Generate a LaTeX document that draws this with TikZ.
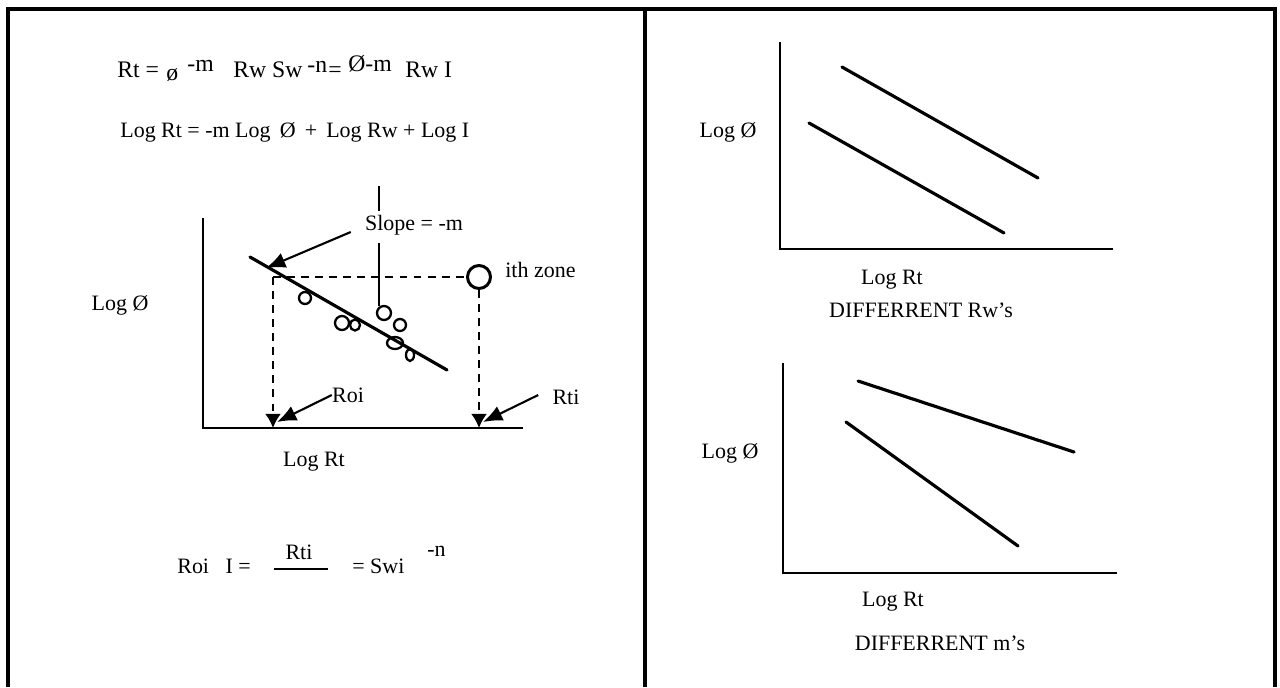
\documentclass[tikz,border=0pt]{standalone}
\usepackage{fontspec}
\setmainfont{Liberation Serif}
\usetikzlibrary{arrows.meta,positioning}

\begin{document}
\begin{tikzpicture}[x=0.02cm, y=-0.02cm,
  every node/.style={font=\fontsize{12.5}{14}\selectfont, inner sep=0pt},
  big/.style={font=\fontsize{13.5}{15}\selectfont},
  frame/.style={line width=1.9pt},
  axis/.style={line width=1.2pt},
  trend/.style={line width=1.8pt, line cap=round},
  tick/.style={line width=0.9pt},
  guide/.style={line width=1.1pt, dash pattern=on 4.5pt off 3.5pt},
  pointer/.style={line width=1.2pt, -{Latex[length=11pt,width=9pt]}},
  drop/.style={guide, -{Latex[length=8pt,width=9pt]}},
  datum/.style={line width=1.3pt}]
  \useasboundingbox (0,0) rectangle (1280,687);
  % frame and divider
  \draw[frame] (8,687) -- (8,9) -- (1275,9) -- (1275,687);
  \draw[frame] (645,9) -- (645,687);

  % left panel: equations
  \node[big, anchor=base west] (eqA1) at (117,77) {Rt =};
  \node[big, anchor=base west] (eqA2) at (166,80) {ø};
  \node[big, anchor=base west] (eqA3) at (187,71) {-m};
  \node[big, anchor=base west] (eqA4) at (233,77) {Rw Sw};
  \node[big, anchor=base west] (eqA5) at (307,72) {-n};
  \node[big, anchor=base west] (eqA6) at (328,77) {=};
  \node[big, anchor=base west] (eqA7) at (348,71) {Ø-m};
  \node[big, anchor=base west] (eqA8) at (405,77) {Rw I};
  \node[anchor=base west] (eqB) at (120,137)
    {Log Rt = -m Log\ \,Ø\ \,+\ \,Log Rw + Log I};

  % left panel: cross plot
  \coordinate (oL) at (203,428);
  \draw[axis] (203,218) -- (oL) -- (523,428);
  \node (phiL) at (120,305) {Log\ Ø};
  \node (rtL) at (314,462) {Log Rt};
  \draw[trend] (250,257) -- (447,370);
  \foreach \px/\py/\rx/\ry in {305/298/6/6, 342/323/7/7, 355/325/5/5.5, 384/313/7/7,
      400/325/6/6, 395/343/8/6, 410/355/4/6}
    \draw[datum] (\px,\py) ellipse [x radius=\rx, y radius=\ry];
  \node[draw, circle, line width=1.7pt, minimum size=0.46cm] (zone) at (479,277) {};
  \node[anchor=west] (zoneL) at (505,270) {ith zone};
  \coordinate (hit) at (273,277);
  \coordinate (roiTip) at (273,428);
  \coordinate (rtiTip) at (479,428);
  \draw[guide] (hit) -- (zone.west);
  \draw[drop] (hit) -- (roiTip);
  \draw[drop] (zone.south) -- (rtiTip);
  % slope label
  \node (slope) at (414,225) {Slope = -m};
  \coordinate (fitTop) at (266,268);
  \draw[tick] (379,186) -- (379,211);
  \draw[tick] (379,243) -- (379,306);
  \draw[pointer] ([shift={(-14,7)}]slope.west) -- (fitTop);
  % read-off labels
  \node (roi) at (348,395) {Roi};
  \node (rti) at (566,397) {Rti};
  \draw[pointer] (roi.west) -- ([shift={(4,-6)}]roiTip);
  \draw[pointer] ([shift={(-14,-2)}]rti.west) -- ([shift={(4,-6)}]rtiTip);

  % left panel: saturation relation
  \node[anchor=base west] (eqC) at (177,573) {Roi\ \ \ I =};
  \node[anchor=base] (eqNum) at (299,559) {Rti};
  \draw[tick] (274,569) -- (328,569);
  \node[anchor=base west] (eqD) at (352,573) {= Swi};
  \node[anchor=base west] (eqExp) at (427,556) {-n};

  % right panel: different Rw's
  \draw[axis] (780,42) -- (780,249) -- (1113,249);
  \draw[trend] (842,67) -- (1038,178);
  \draw[trend] (809,123) -- (1004,233);
  \node (phiR1) at (728,132) {Log\ Ø};
  \node (rtR1) at (892,280) {Log Rt};
  \node (capR1) at (921,310) {DIFFERRENT Rw's};

  % right panel: different m's
  \draw[axis] (783,363) -- (783,573) -- (1117,573);
  \draw[trend] (858,381) -- (1074,452);
  \draw[trend] (846,422) -- (1018,546);
  \node (phiR2) at (730,453) {Log\ Ø};
  \node (rtR2) at (893,602) {Log Rt};
  \node (capR2) at (940,643) {DIFFERRENT m's};
\end{tikzpicture}
\end{document}
